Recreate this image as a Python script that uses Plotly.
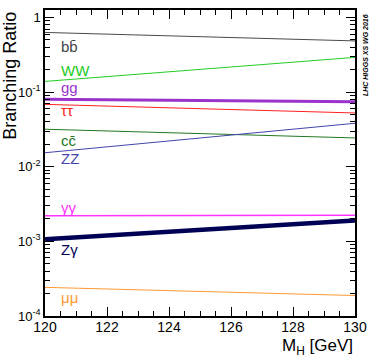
import math
import plotly.graph_objects as go

mass = [120, 130]
br_bb = [0.63, 0.485]
br_ww = [0.139, 0.292]
br_gg = [0.0805, 0.0745]
br_tautau = [0.0685, 0.0525]
br_cc = [0.0318, 0.0243]
br_zz = [0.0154, 0.0382]
br_gamgam = [0.00221, 0.00224]
br_zgam = [0.00107, 0.00190]
br_mumu = [0.000242, 0.000188]

names = ["bb", "WW", "gg", "tautau", "cc", "ZZ", "gamgam", "Zgam", "mumu"]
labels = ["bb\u0304", "WW", "gg", "\u03c4\u03c4", "cc\u0304", "ZZ", "\u03b3\u03b3", "Z\u03b3", "\u03bc\u03bc"]
series = [br_bb, br_ww, br_gg, br_tautau, br_cc, br_zz, br_gamgam, br_zgam, br_mumu]
label_y = [0.405, 0.197, 0.1156, 0.0573, 0.0222, 0.0129, 0.0028, 0.00078, 0.000179]
colors = ["#4a4a4a", "#22cc22", "#9933cc", "#ff2222", "#227722", "#4444aa", "#ff33ff", "#000055", "#ff9933"]
widths = [1, 1, 3, 1, 1, 1, 1.5, 4.5, 1]
label_colors = ["#444444", "#22cc22", "#9933cc", "#ff2222", "#227722", "#4444aa", "#ff33ff", "#000055", "#ff9933"]

FONT = "Liberation Sans, Arial, sans-serif"

fig = go.Figure()
for n, s, c, w in zip(names, series, colors, widths):
    fig.add_trace(go.Scatter(x=mass, y=s, mode="lines", name=n,
                             line=dict(color=c, width=w), showlegend=False))

for lab, ly, lc in zip(labels, label_y, label_colors):
    fig.add_annotation(x=120.45, y=math.log10(ly), xref="x", yref="y", text=lab, showarrow=False,
                       xanchor="left", yanchor="middle",
                       font=dict(size=15, color=lc, family=FONT))

fig.add_annotation(x=1.032, y=0.993, xref="paper", yref="paper",
                   text="<b><i>LHC HIGGS XS WG 2016</i></b>", showarrow=False,
                   textangle=-90, xanchor="center", yanchor="top",
                   font=dict(size=7, color="black", family=FONT))

# axis titles placed ROOT-style (right/top aligned)
fig.add_annotation(x=1.0, y=-0.058, xref="paper", yref="paper",
                   text="M<sub>H</sub> [GeV]", showarrow=False,
                   xanchor="right", yanchor="top",
                   font=dict(size=17, color="black", family=FONT))
fig.add_annotation(x=-0.075, y=1.0, xref="paper", yref="paper",
                   text="Branching Ratio", showarrow=False, textangle=-90,
                   xanchor="right", yanchor="top",
                   font=dict(size=18, color="black", family=FONT))

yt_vals = [1e-4, 1e-3, 1e-2, 1e-1, 1]
yt_text = ["10<sup>-4</sup>", "10<sup>-3</sup>", "10<sup>-2</sup>", "10<sup>-1</sup>", "1"]
y_minor = [m * 10 ** e for e in range(-4, 1) for m in range(2, 10) if m * 10 ** e < 1.26]

fig.update_layout(
    width=374, height=359,
    margin=dict(l=45, r=19, t=10, b=43, autoexpand=False),
    paper_bgcolor="white", plot_bgcolor="white",
    font=dict(family=FONT, color="black", size=13),
    xaxis=dict(range=[120, 130], tickvals=[120, 122, 124, 126, 128, 130],
               ticks="inside", ticklen=9, tickwidth=1, tickcolor="black",
               mirror="allticks", showline=True, linecolor="black", linewidth=1.5,
               showgrid=False, zeroline=False, automargin=False,
               ticklabelstandoff=-3,
               minor=dict(tickvals=[120 + 0.5 * i for i in range(21)], ticks="inside",
                          ticklen=5, tickcolor="black", showgrid=False),
               tickfont=dict(size=14)),
    yaxis=dict(type="log", range=[-4, 0.1], tickvals=yt_vals, ticktext=yt_text,
               ticks="inside", ticklen=9, tickwidth=1, tickcolor="black",
               mirror="allticks", showline=True, linecolor="black", linewidth=1.5,
               showgrid=False, zeroline=False, automargin=False,
               minor=dict(tickvals=y_minor, ticks="inside", ticklen=5, tickcolor="black",
                          showgrid=False),
               tickfont=dict(size=13)),
)

fig.write_html("out.html", config={"displayModeBar": False},
               post_script="document.body.style.margin='0px';")
